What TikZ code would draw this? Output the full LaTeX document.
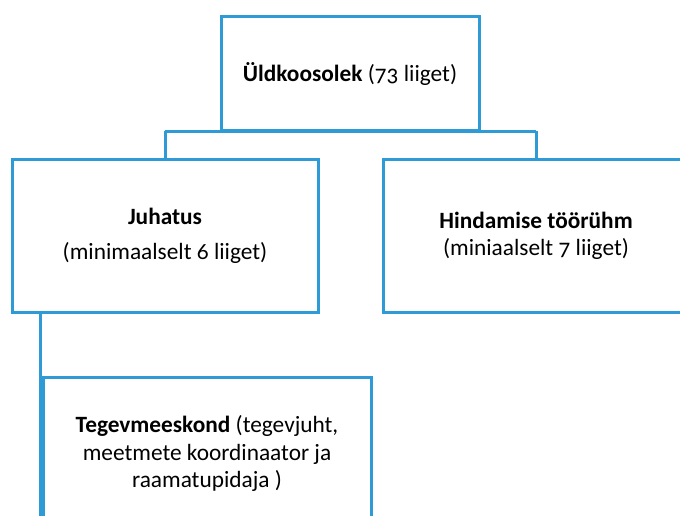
\documentclass[tikz,border=0pt]{standalone}
\usepackage{fontspec}
\setmainfont{Carlito}[Numbers=OldStyle]
\usetikzlibrary{positioning}
\definecolor{orgblue}{RGB}{46,155,215}
\tikzset{orgbox/.style={draw=orgblue, line width=2.25pt, fill=white, align=center, inner sep=0pt},
orgline/.style={draw=orgblue, line width=2.25pt}}

\begin{document}
\begin{tikzpicture}[x=0.75pt, y=-0.75pt, font=\fontsize{17.5}{20.5}\selectfont]
        \useasboundingbox (0,0) rectangle (680,515);
        \clip (0,0) rectangle (680,515);
        % bus from the top box
        \draw[orgline] (165,131) -- (536,131);
        \node[orgbox, minimum width=193.5pt, minimum height=85.5pt] (ldk) at (350,73.7) {\textbf{Üldkoosolek} (73 liiget)};
        \node[orgbox, minimum width=229.5pt, minimum height=114.75pt] (juhatus) at (165,235.5) {\textbf{Juhatus}\\[5.5pt](minimaalselt 6 liiget)};
        \node[orgbox, minimum width=229.5pt, minimum height=114.75pt] (hindamine) at (536,235.5) {\textbf{Hindamise töörühm}\\(miniaalselt 7 liiget)};
        \node[orgbox, minimum width=246pt, minimum height=114.75pt] (tegev) at (207,453.5) {\textbf{Tegevmeeskond} (tegevjuht,\\meetmete koordinaator ja\\raamatupidaja )};
        \draw[orgline] (165,131) -- (juhatus.north);
        \draw[orgline] (536,131) -- (hindamine.north);
        \draw[orgline] ([xshift=-0.75pt]tegev.north west |- juhatus.south) -- ([xshift=-0.75pt]tegev.south west);
\end{tikzpicture}
\end{document}
